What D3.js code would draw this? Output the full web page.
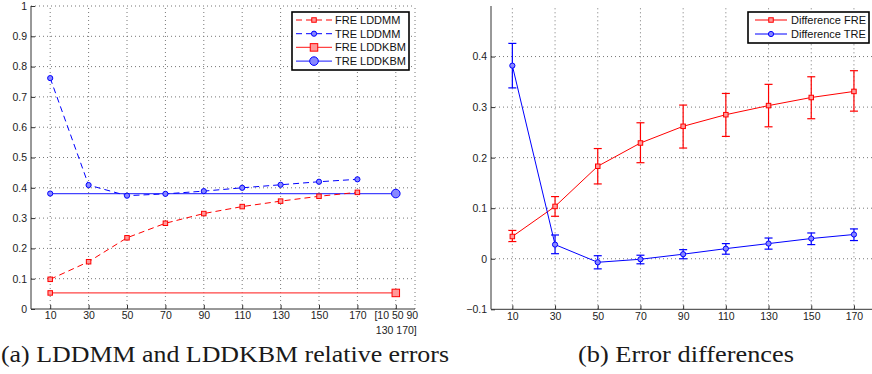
<!DOCTYPE html>
<html>
<head>
<meta charset="utf-8">
<script src="https://cdn.jsdelivr.net/npm/d3@7"></script>
<style>
  body { margin: 0; background: #fff; }
  svg { display: block; }
  .tick text { font-family: "Liberation Sans", Arial, Helvetica, sans-serif; font-size: 10.5px; fill: #222; }
  .grid line { stroke: #777; stroke-dasharray: 1,3; }
  .legend text { font-family: "Liberation Sans", Arial, Helvetica, sans-serif; font-size: 11px; fill: #111; }
  .caption { font-family: "Liberation Serif", "Times New Roman", serif; font-size: 24px; fill: #1a1a1a; }
</style>
</head>
<body>
<div id="chart"></div>
<script>
// categories (sample counts)
var cats = ["10", "30", "50", "70", "90", "110", "130", "150", "170"];
var allCat = "[10 50 90|130 170]";
var yTicksA = [0, 0.1, 0.2, 0.3, 0.4, 0.5, 0.6, 0.7, 0.8, 0.9, 1];
var yTicksB = [-0.1, 0, 0.1, 0.2, 0.3, 0.4];

// (a) relative errors
var freLDDMM = [0.098, 0.156, 0.235, 0.283, 0.315, 0.338, 0.356, 0.372, 0.385];
var treLDDMM = [0.762, 0.409, 0.374, 0.380, 0.389, 0.400, 0.410, 0.420, 0.428];
var freLDDKBM = 0.053;
var treLDDKBM = 0.381;

// (b) differences with error bars
var diffFRE   = [0.044, 0.1035, 0.183, 0.229, 0.262, 0.285, 0.303, 0.319, 0.331];
var diffFRElo = [0.034, 0.084, 0.148, 0.190, 0.219, 0.242, 0.261, 0.277, 0.292];
var diffFREhi = [0.056, 0.123, 0.218, 0.269, 0.304, 0.327, 0.345, 0.360, 0.372];
var diffTRE   = [0.382, 0.028, -0.007, -0.001, 0.009, 0.020, 0.030, 0.040, 0.048];
var diffTRElo = [0.338, 0.010, -0.020, -0.010, 0.000, 0.009, 0.019, 0.028, 0.036];
var diffTREhi = [0.426, 0.047, 0.006, 0.007, 0.018, 0.030, 0.041, 0.051, 0.059];

var RED = "#ff0000", BLUE = "#0000ff";

var svg = d3.select("#chart").append("svg")
            .attr("width", 872)
            .attr("height", 374);

function fmt(d) {
  if (d === 0 || d === 1) return String(d);
  return (d < 0 ? "\u2212" : "") + Math.abs(d).toFixed(1);
}

function drawAxes(x, y, yTicks, top, right, rightGrid) {
  var g = svg.append("g");
  var left = x.range()[0], bottom = y.range()[0];
  // grid
  var grid = g.append("g").attr("class", "grid");
  grid.selectAll(".gx").data(x.domain()).enter().append("line")
      .attr("x1", function (d) { return x(d); })
      .attr("x2", function (d) { return x(d); })
      .attr("y1", bottom).attr("y2", top);
  grid.selectAll(".gy").data(yTicks.filter(function (d) { return y(d) < bottom - 1; }))
      .enter().append("line")
      .attr("x1", left).attr("x2", right)
      .attr("y1", function (d) { return y(d); })
      .attr("y2", function (d) { return y(d); });
  if (rightGrid) {
    grid.append("line").attr("x1", right).attr("x2", right).attr("y1", bottom).attr("y2", top);
  }

  var xAxis = g.append("g")
     .attr("transform", "translate(0," + bottom + ")")
     .call(d3.axisBottom(x).tickSizeInner(-4).tickSizeOuter(0).tickPadding(3));
  xAxis.select(".domain").attr("d", "M" + left + ",0H" + right);
  xAxis.selectAll(".tick text").each(function (d) {
    var parts = String(d).split("|");
    if (parts.length > 1) {
      var t = d3.select(this).text(null);
      parts.forEach(function (p, i) {
        t.append("tspan").attr("x", 0).attr("dy", i === 0 ? "0.71em" : "1.4em").text(p);
      });
      t.attr("dy", null);
    }
  });

  var yAxis = g.append("g")
     .attr("transform", "translate(" + left + ",0)")
     .call(d3.axisLeft(y).tickValues(yTicks).tickFormat(fmt).tickSizeInner(-4).tickSizeOuter(0).tickPadding(4));
  yAxis.select(".domain").attr("d", "M0," + bottom + "V" + top);
  g.selectAll(".domain").attr("stroke", "#333");
  g.selectAll(".tick line").attr("stroke", "#333");
}

function square(g, cx, cy, s, stroke, fill) {
  g.append("rect").attr("x", cx - s / 2).attr("y", cy - s / 2)
   .attr("width", s).attr("height", s)
   .attr("fill", fill).attr("stroke", stroke).attr("stroke-width", 1);
}
function circle(g, cx, cy, r, stroke, fill) {
  g.append("circle").attr("cx", cx).attr("cy", cy).attr("r", r)
   .attr("fill", fill).attr("stroke", stroke).attr("stroke-width", 1);
}

//------------------ (a) ------------------//
var xA = d3.scalePoint().domain(cats.concat([allCat])).range([31, 415]).padding(0.5);
var yA = d3.scaleLinear().domain([0, 1]).range([309, 6]);
drawAxes(xA, yA, yTicksA, 6, 415, true);

var pa = svg.append("g");
var lineA = d3.line()
    .x(function (d, i) { return xA(cats[i]); })
    .y(function (d) { return yA(d); });

// LDDKBM constant lines
pa.append("path").attr("d", d3.line()([[xA(cats[0]), yA(freLDDKBM)], [xA(allCat), yA(freLDDKBM)]]))
  .attr("stroke", "#ff4444").attr("stroke-width", 1.3).attr("fill", "none");
pa.append("path").attr("d", d3.line()([[xA(cats[0]), yA(treLDDKBM)], [xA(allCat), yA(treLDDKBM)]]))
  .attr("stroke", "#4444ff").attr("stroke-width", 1.3).attr("fill", "none");
square(pa, xA(cats[0]), yA(freLDDKBM), 4.5, RED, "#ff9999");
circle(pa, xA(cats[0]), yA(treLDDKBM), 2.6, BLUE, "#8888ff");
square(pa, xA(allCat), yA(freLDDKBM), 7.5, RED, "#ff9999");
circle(pa, xA(allCat), yA(treLDDKBM), 4.3, BLUE, "#8888ff");

// LDDMM dashed
pa.append("path").attr("d", lineA(freLDDMM))
  .attr("stroke", RED).attr("stroke-width", 1).attr("stroke-dasharray", "6,4").attr("fill", "none");
pa.append("path").attr("d", lineA(treLDDMM))
  .attr("stroke", BLUE).attr("stroke-width", 1).attr("stroke-dasharray", "6,4").attr("fill", "none");
freLDDMM.forEach(function (d, i) { square(pa, xA(cats[i]), yA(d), 4.5, RED, "#ff9999"); });
treLDDMM.forEach(function (d, i) { circle(pa, xA(cats[i]), yA(d), 2.6, BLUE, "#8888ff"); });

// legend (a)
var lgA = svg.append("g").attr("class", "legend");
lgA.append("rect").attr("x", 292).attr("y", 12).attr("width", 117).attr("height", 58)
   .attr("fill", "#fff").attr("stroke", "#000").attr("stroke-width", 1.6);
var legA = [
  {t: "FRE LDDMM", c: RED, dash: "6,4", m: "s", s: 4.5},
  {t: "TRE LDDMM", c: BLUE, dash: "6,4", m: "c", s: 2.6},
  {t: "FRE LDDKBM", c: "#ff4444", dash: null, m: "s", s: 7.5},
  {t: "TRE LDDKBM", c: "#4444ff", dash: null, m: "c", s: 4.3}
];
legA.forEach(function (e, i) {
  var yy = 20 + i * 13.7;
  lgA.append("line").attr("x1", 296).attr("x2", 332).attr("y1", yy).attr("y2", yy)
     .attr("stroke", e.c).attr("stroke-width", e.dash ? 1 : 1.3)
     .attr("stroke-dasharray", e.dash);
  if (e.m === "s") square(lgA, 314, yy, e.s, RED, "#ff9999");
  else circle(lgA, 314, yy, e.s, BLUE, "#8888ff");
  lgA.append("text").attr("x", 335).attr("y", yy).attr("dy", "0.36em").text(e.t);
});

//------------------ (b) ------------------//
var xB = d3.scalePoint().domain(cats).range([491, 875.3]).padding(0.5);
var yB = d3.scaleLinear().domain([-0.1, 0.5]).range([309.3, 6]);
drawAxes(xB, yB, yTicksB, 6, 872, false);

var pb = svg.append("g");
var lineB = d3.line()
    .x(function (d, i) { return xB(cats[i]); })
    .y(function (d) { return yB(d); });

function errorBars(lo, hi, color) {
  var g = pb.append("g").attr("stroke", color).attr("stroke-width", 1.2).attr("fill", "none");
  cats.forEach(function (c, i) {
    var cx = xB(c);
    g.append("line").attr("x1", cx).attr("x2", cx).attr("y1", yB(lo[i])).attr("y2", yB(hi[i]));
    g.append("line").attr("x1", cx - 4).attr("x2", cx + 4).attr("y1", yB(lo[i])).attr("y2", yB(lo[i]));
    g.append("line").attr("x1", cx - 4).attr("x2", cx + 4).attr("y1", yB(hi[i])).attr("y2", yB(hi[i]));
  });
}

errorBars(diffFRElo, diffFREhi, RED);
pb.append("path").attr("d", lineB(diffFRE)).attr("stroke", RED).attr("stroke-width", 1).attr("fill", "none");
diffFRE.forEach(function (d, i) { square(pb, xB(cats[i]), yB(d), 4.5, RED, "#ff9999"); });

errorBars(diffTRElo, diffTREhi, BLUE);
pb.append("path").attr("d", lineB(diffTRE)).attr("stroke", BLUE).attr("stroke-width", 1).attr("fill", "none");
diffTRE.forEach(function (d, i) { circle(pb, xB(cats[i]), yB(d), 2.6, BLUE, "#8888ff"); });

// legend (b)
var lgB = svg.append("g").attr("class", "legend");
lgB.append("rect").attr("x", 748).attr("y", 12).attr("width", 121).attr("height", 31)
   .attr("fill", "#fff").attr("stroke", "#000").attr("stroke-width", 1.6);
var legB = [
  {t: "Difference FRE", c: RED, m: "s"},
  {t: "Difference TRE", c: BLUE, m: "c"}
];
legB.forEach(function (e, i) {
  var yy = 20 + i * 14;
  lgB.append("line").attr("x1", 755).attr("x2", 787).attr("y1", yy).attr("y2", yy)
     .attr("stroke", e.c).attr("stroke-width", 1);
  if (e.m === "s") square(lgB, 771, yy, 4.5, RED, "#ff9999");
  else circle(lgB, 771, yy, 2.6, BLUE, "#8888ff");
  lgB.append("text").attr("x", 791).attr("y", yy).attr("dy", "0.36em").text(e.t);
});

// captions
svg.append("text").attr("class", "caption").attr("x", 1).attr("y", 362)
   .attr("textLength", 448).attr("lengthAdjust", "spacingAndGlyphs")
   .text("(a) LDDMM and LDDKBM relative errors");
svg.append("text").attr("class", "caption").attr("x", 578).attr("y", 362)
   .attr("textLength", 216).attr("lengthAdjust", "spacingAndGlyphs")
   .text("(b) Error differences");
</script>
</body>
</html>
